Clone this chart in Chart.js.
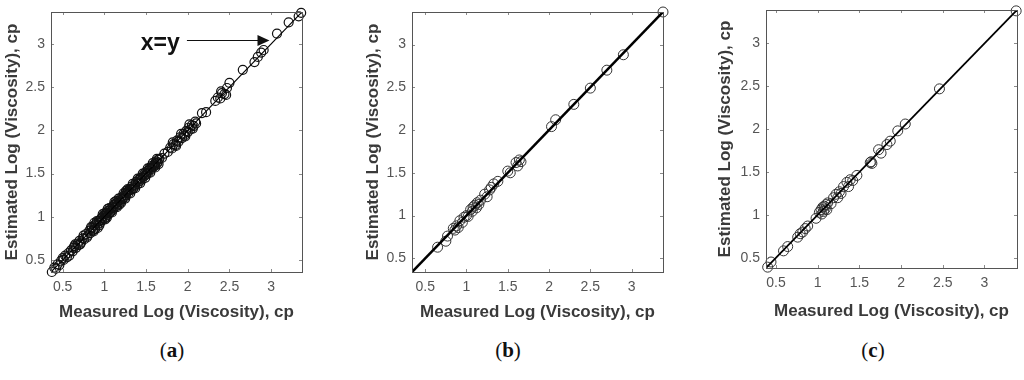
<!DOCTYPE html>
<html>
<head>
<meta charset="utf-8">
<script src="https://cdn.jsdelivr.net/npm/chart.js@4.4.1/dist/chart.umd.min.js"></script>
<style>
  body { margin: 0; background: #fff; width: 1024px; height: 380px; position: relative; overflow: hidden; }
  .panel { position: absolute; top: 0; }
  .cap { position: absolute; top: 338px; font-family: "Liberation Serif", "DejaVu Serif", serif; font-size: 21px; color: #111; transform: translateX(-50%); }
</style>
</head>
<body>
<div class="panel" style="left:0px"><canvas id="chartA" width="340" height="330"></canvas></div>
<div class="panel" style="left:340px"><canvas id="chartB" width="340" height="330"></canvas></div>
<div class="panel" style="left:680px"><canvas id="chartC" width="344" height="330"></canvas></div>
<div class="cap" style="left:172px">(<b>a</b>)</div>
<div class="cap" style="left:508px">(<b>b</b>)</div>
<div class="cap" style="left:873px">(<b>c</b>)</div>
<script>
// axis ticks (same on both axes, all panels)
const tickValues = [0.5, 1, 1.5, 2, 2.5, 3];
const tickLabels = ['0.5', '1', '1.5', '2', '2.5', '3'];
const xTitle = 'Measured Log (Viscosity), cp';
const yTitle = 'Estimated Log (Viscosity), cp';

// panel (a)
const measuredA = [
  0.37,0.40,0.42,0.44,0.46,0.48,0.51,0.53,0.55,0.57,
  0.60,0.62,0.64,0.66,0.68,0.70,0.72,0.74,0.76,0.78,
  0.80,0.82,0.83,0.85,0.86,0.88,0.89,0.90,0.92,0.93,
  0.95,0.96,0.97,0.99,1.00,1.01,1.02,1.03,1.04,1.05,
  1.06,1.08,1.09,1.10,1.11,1.12,1.14,1.15,1.16,1.18,
  1.19,1.20,1.21,1.23,1.24,1.25,1.26,1.28,1.29,1.30,
  1.32,1.33,1.34,1.36,1.37,1.38,1.40,1.41,1.42,1.44,
  1.45,1.46,1.48,1.49,1.50,1.52,1.53,1.54,1.56,1.57,
  1.58,1.60,1.61,1.62,1.64,1.66,1.69,1.72,1.76,1.79,
  1.81,1.83,1.85,1.87,1.89,1.91,1.93,1.95,1.96,1.98,
  2.00,2.01,2.03,2.05,2.07,2.09,2.10,2.17,2.22,2.33,
  2.36,2.39,2.41,2.44,2.47,2.50,2.66,2.80,2.84,2.88,
  2.91,3.07,3.21,3.33,3.36,
  0.87,0.94,1.02,1.07,1.13,1.22,1.27,1.35,1.43,1.51,
  1.55,1.59,1.63,1.65,0.63,0.69,
  0.50,0.58,0.65,0.71,0.75,0.79,0.84,0.87,0.91,0.94,
  0.98,1.00,1.03,1.06,1.09,1.12,1.15,1.17,1.20,1.23,
  1.25,1.28,1.31,1.34,1.37,1.40,1.43,1.46,1.49,1.52,
  1.55,1.58,1.61,1.63,1.65,1.82,1.86,1.92,1.97,2.02,
  2.06,2.40,2.46,0.88,0.92,1.01,1.04,1.14,1.18,1.26
];
const estimatedA = [
  0.36,0.41,0.40,0.45,0.44,0.49,0.50,0.55,0.53,0.58,
  0.61,0.60,0.66,0.64,0.69,0.72,0.70,0.75,0.74,0.80,
  0.78,0.84,0.81,0.87,0.84,0.90,0.86,0.92,0.91,0.95,
  0.93,0.98,0.96,1.01,0.98,1.03,1.00,1.05,1.02,1.07,
  1.04,1.09,1.07,1.12,1.10,1.14,1.12,1.16,1.14,1.19,
  1.17,1.22,1.20,1.24,1.22,1.27,1.25,1.29,1.27,1.32,
  1.31,1.35,1.32,1.37,1.36,1.40,1.38,1.43,1.41,1.45,
  1.43,1.48,1.47,1.51,1.49,1.53,1.51,1.56,1.55,1.59,
  1.57,1.61,1.59,1.64,1.63,1.67,1.68,1.73,1.75,1.80,
  1.79,1.84,1.83,1.88,1.87,1.92,1.91,1.96,1.94,1.99,
  1.98,2.03,2.01,2.06,2.05,2.10,2.08,2.20,2.21,2.34,
  2.38,2.37,2.43,2.42,2.49,2.55,2.70,2.79,2.85,2.90,
  2.93,3.12,3.25,3.32,3.36,
  0.85,0.95,1.04,1.05,1.15,1.21,1.28,1.33,1.44,1.50,
  1.57,1.58,1.62,1.66,0.64,0.67,
  0.52,0.55,0.68,0.68,0.78,0.76,0.88,0.83,0.95,0.90,
  1.03,1.04,0.99,1.10,1.05,1.17,1.11,1.21,1.16,1.27,
  1.21,1.32,1.27,1.38,1.33,1.44,1.39,1.50,1.45,1.56,
  1.51,1.62,1.57,1.67,1.61,1.86,1.82,1.96,1.93,2.07,
  2.02,2.45,2.41,0.93,0.87,0.97,1.09,1.18,1.14,1.30
];

// panel (b)
const measuredB = [0.65,0.75,0.77,0.84,0.86,0.88,0.90,0.92,0.95,0.97,1.00,1.02,1.05,1.07,1.08,1.10,1.12,1.13,1.15,1.17,
  1.22,1.25,1.28,1.30,1.33,1.38,1.50,1.53,1.60,1.62,1.64,1.66,2.03,2.08,2.30,2.50,2.70,2.90,3.38];
const estimatedB = [0.63,0.70,0.76,0.85,0.83,0.88,0.86,0.94,0.92,0.98,1.00,0.99,1.07,1.05,1.10,1.12,1.09,1.15,1.13,1.18,
  1.25,1.22,1.30,1.33,1.37,1.40,1.52,1.50,1.62,1.58,1.65,1.63,2.04,2.12,2.30,2.49,2.70,2.88,3.38];

// panel (c)
const measuredC = [0.40,0.44,0.59,0.64,0.76,0.79,0.82,0.85,0.88,0.98,1.02,1.04,1.05,1.06,1.07,1.08,1.09,1.10,1.11,1.12,
  1.16,1.19,1.22,1.24,1.26,1.28,1.31,1.35,1.37,1.39,1.42,1.47,1.63,1.64,1.65,1.73,1.76,1.83,1.87,1.96,2.05,2.46,3.38];
const estimatedC = [0.39,0.45,0.58,0.63,0.74,0.78,0.80,0.84,0.87,0.96,1.03,1.06,1.01,1.09,1.04,1.10,1.07,1.12,1.06,1.14,
  1.13,1.20,1.24,1.20,1.27,1.25,1.33,1.38,1.33,1.41,1.40,1.46,1.61,1.62,1.60,1.76,1.72,1.82,1.86,1.98,2.06,2.47,3.38];

// axis limits per panel
const limitsA = [0.36, 3.37];
const limitsB = [0.34, 3.38];
const limitsC = [0.38, 3.39];

function pairs(xs, ys) {
  return xs.map(function(v, i) { return {x: v, y: ys[i]}; });
}

// box round the plot, small inward ticks, optional arrow label
const framePlugin = {
  id: 'frame',
  afterDraw(chart, args, opts) {
    const ctx = chart.ctx;
    const a = chart.chartArea;
    const sx = chart.scales.x, sy = chart.scales.y;
    ctx.save();
    ctx.strokeStyle = '#8a8a8a';
    ctx.lineWidth = 1;
    ctx.beginPath();
    tickValues.forEach(function(v) {
      const px = Math.round(sx.getPixelForValue(v)) + 0.5;
      ctx.moveTo(px, a.bottom); ctx.lineTo(px, a.bottom - 3);
      ctx.moveTo(px, a.top); ctx.lineTo(px, a.top + 3);
      const py = Math.round(sy.getPixelForValue(v)) + 0.5;
      ctx.moveTo(a.left, py); ctx.lineTo(a.left + 3, py);
      ctx.moveTo(a.right, py); ctx.lineTo(a.right - 3, py);
    });
    ctx.stroke();
    ctx.strokeStyle = '#555';
    ctx.strokeRect(Math.round(a.left) + 0.5, Math.round(a.top) + 0.5,
      Math.round(a.right - a.left), Math.round(a.bottom - a.top));

    if (opts.arrow) {
      const ar = opts.arrow;
      ctx.fillStyle = '#111';
      ctx.strokeStyle = '#111';
      ctx.font = 'bold 23px "Liberation Sans", Arial, sans-serif';
      ctx.textAlign = 'center';
      ctx.textBaseline = 'middle';
      ctx.fillText(ar.text, sx.getPixelForValue(ar.labelAt[0]), sy.getPixelForValue(ar.labelAt[1]));
      const x0 = sx.getPixelForValue(ar.from[0]), y0 = sy.getPixelForValue(ar.from[1]);
      const x1 = sx.getPixelForValue(ar.to[0]), y1 = sy.getPixelForValue(ar.to[1]);
      ctx.lineWidth = 1;
      ctx.beginPath();
      ctx.moveTo(x0, y0); ctx.lineTo(x1 - 10, y1);
      ctx.stroke();
      ctx.beginPath();
      ctx.moveTo(x1, y1); ctx.lineTo(x1 - 12, y1 - 5.5); ctx.lineTo(x1 - 12, y1 + 5.5);
      ctx.closePath();
      ctx.fill();
    }
    ctx.restore();
  }
};

function makeChart(id, xs, ys, lim, geo) {
  const tickFont = {family: '"Liberation Sans", Arial, sans-serif', size: 14};
  const titleFont = {family: '"Liberation Sans", Arial, sans-serif', size: 17, weight: 'bold'};
  function fmt(v) {
    const i = tickValues.indexOf(Math.round(v * 10) / 10);
    return i >= 0 ? tickLabels[i] : '';
  }
  return new Chart(document.getElementById(id), {
    type: 'scatter',
    data: {
      datasets: [{
        data: [{x: lim[0], y: lim[0]}, {x: lim[1], y: lim[1]}],
        showLine: true,
        borderColor: '#000',
        borderWidth: geo.lineWidth,
        pointRadius: 0
      }, {
        data: pairs(xs, ys),
        pointStyle: 'circle',
        pointRadius: geo.radius,
        pointBorderWidth: geo.markWidth,
        pointBorderColor: geo.markColor,
        pointBackgroundColor: 'rgba(0,0,0,0)',
        clip: false
      }]
    },
    options: {
      responsive: false,
      devicePixelRatio: 1,
      animation: false,
      events: [],
      layout: {padding: {top: geo.top, right: geo.right, left: 0, bottom: 0}},
      plugins: {
        legend: {display: false},
        tooltip: {enabled: false},
        frame: {arrow: geo.arrow || null}
      },
      scales: {
        x: {
          type: 'linear', min: lim[0], max: lim[1],
          grid: {display: false, drawTicks: false},
          border: {display: false},
          ticks: {stepSize: 0.5, includeBounds: false, padding: 7, color: '#555', font: tickFont, callback: fmt, maxRotation: 0},
          title: {display: true, text: xTitle, color: '#3a3a3a', font: titleFont, padding: {top: 0, bottom: geo.xTitlePad}},
          afterFit: function(s) { s.height = geo.xHeight; s.paddingLeft = 0; s.paddingRight = 0; }
        },
        y: {
          type: 'linear', min: lim[0], max: lim[1],
          grid: {display: false, drawTicks: false},
          border: {display: false},
          ticks: {stepSize: 0.5, includeBounds: false, padding: 6, color: '#555', font: tickFont, callback: fmt},
          title: {display: true, text: yTitle, color: '#3a3a3a', font: titleFont, padding: {top: geo.yTitlePad, bottom: 0}},
          afterFit: function(s) { s.width = geo.yWidth; s.paddingTop = 0; s.paddingBottom = 0; }
        }
      }
    },
    plugins: [framePlugin]
  });
}

makeChart('chartA', measuredA, estimatedA, limitsA, {
  top: 12, right: 38, yWidth: 51, xHeight: 58, yTitlePad: 2, xTitlePad: 7,
  lineWidth: 1.2, radius: 4.5, markColor: '#111', markWidth: 1.2,
  arrow: {text: 'x=y', labelAt: [1.67, 3.0], from: [1.99, 3.04], to: [2.98, 3.04]}
});
makeChart('chartB', measuredB, estimatedB, limitsB, {
  top: 12, right: 17, yWidth: 72, xHeight: 58, yTitlePad: 23, xTitlePad: 7,
  lineWidth: 2.6, radius: 5, markColor: '#333', markWidth: 1
});
makeChart('chartC', measuredC, estimatedC, limitsC, {
  top: 10, right: 7, yWidth: 86, xHeight: 62, yTitlePad: 35, xTitlePad: 8,
  lineWidth: 1.8, radius: 5, markColor: '#333', markWidth: 1
});
</script>
</body>
</html>
